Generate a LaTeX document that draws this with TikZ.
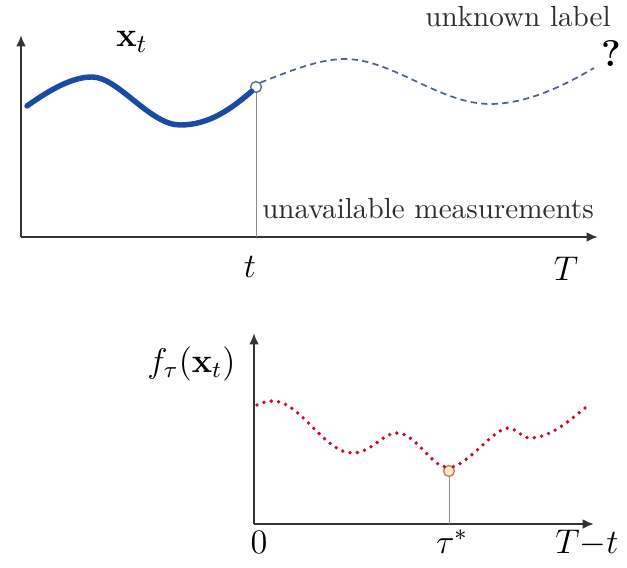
\documentclass[tikz,border=0pt]{standalone}
\usetikzlibrary{arrows.meta}
\definecolor{curveblue}{RGB}{25,75,165}
\definecolor{dashblue}{RGB}{75,100,140}
\definecolor{dotred}{RGB}{205,10,40}
\definecolor{ringblue}{RGB}{90,110,140}
\definecolor{ringorange}{RGB}{200,130,80}
\definecolor{fillorange}{RGB}{255,232,205}
\definecolor{txtgray}{RGB}{45,45,45}
\begin{document}
\begin{tikzpicture}[x=0.35pt,y=-0.35pt,
  axis/.style={draw=black!80,line width=0.75pt,-{Latex[length=4pt,width=3.4pt]}},
  guide/.style={draw=black!45,line width=0.35pt},
  mathlbl/.style={inner sep=0pt,font=\fontsize{11.6pt}{14pt}\selectfont},
  txtlbl/.style={inner sep=0pt,text=txtgray,font=\fontsize{10.2pt}{12pt}\selectfont},
  ring/.style={circle,inner sep=0pt,minimum size=3.8pt,line width=0.5pt},
  reddots/.style={dotred,line width=1.35pt,line cap=round,dash pattern=on 0pt off 2.6pt}]
\useasboundingbox (0,0) rectangle (627,567);
% top panel
\coordinate (o1) at (21,237);
\coordinate (y1) at (21,35);
\coordinate (x1) at (598,237);
\draw[axis] (o1) -- (y1);
\draw[axis] (o1) -- (x1);
\node[ring,draw=ringblue,fill=white] (c1) at (256,87) {};
\coordinate (c1b) at (256,237);
\draw[guide] (c1.south) -- (c1b);
\draw[curveblue,line width=1.9pt,line cap=round]
  (27,106) .. controls (55,86) and (75,77) .. (92,77)
  .. controls (118,77) and (150,125) .. (180,125)
  .. controls (210,125) and (232,108) .. (c1.south west);
\draw[dashblue,line width=0.6pt,dash pattern=on 2.2pt off 1.5pt]
  (c1.north east) .. controls (292,70) and (320,59) .. (345,59)
  .. controls (392,59) and (440,104) .. (490,104)
  .. controls (530,104) and (570,82) .. (594,68);
\node[inner sep=0pt,anchor=base,font=\fontsize{13pt}{16pt}\selectfont] (xt) at (132,47) {$\mathbf{x}_t$};
\node[txtlbl,anchor=base] (unk) at (518,27) {unknown label};
\node[inner sep=0pt,anchor=base,font=\fontsize{13pt}{16pt}\selectfont\bfseries] (q) at (611,67) {?};
\node[txtlbl,anchor=base] (unav) at (428,218) {unavailable measurements};
\node[mathlbl,anchor=base,font=\fontsize{13pt}{16pt}\selectfont] (tl) at (250,277) {$t$};
\node[mathlbl,anchor=base] (Tl) at (566,280) {$T$};
% bottom panel
\coordinate (o2) at (254,524);
\coordinate (y2) at (254,333);
\coordinate (x2) at (594,524);
\draw[axis] (o2) -- (y2);
\draw[axis] (o2) -- (x2);
\node[ring,draw=ringorange,fill=fillorange] (c2) at (449,471) {};
\coordinate (c2b) at (449,524);
\draw[guide] (c2.south) -- (c2b);
\draw[reddots]
  (257,405) .. controls (263,402) and (268,401) .. (273,401)
  .. controls (300,401) and (325,453) .. (352,453)
  .. controls (372,453) and (382,433) .. (397,433)
  .. controls (415,433) and (432,466) .. (c2.north west);
\draw[reddots]
  (c2.north east) .. controls (470,462) and (495,428) .. (508,428)
  .. controls (516,428) and (522,438) .. (530,438)
  .. controls (550,438) and (570,420) .. (585,408);
\node[mathlbl,anchor=base east] (fl) at (236,372) {$f_\tau(\mathbf{x}_t)$};
\node[mathlbl,anchor=base] (zero) at (259,553) {$0$};
\node[mathlbl,anchor=base] (tau) at (452,553) {$\tau^*$};
\node[mathlbl,anchor=base] (Tt) at (587,553) {$T{-}t$};
\end{tikzpicture}
\end{document}
